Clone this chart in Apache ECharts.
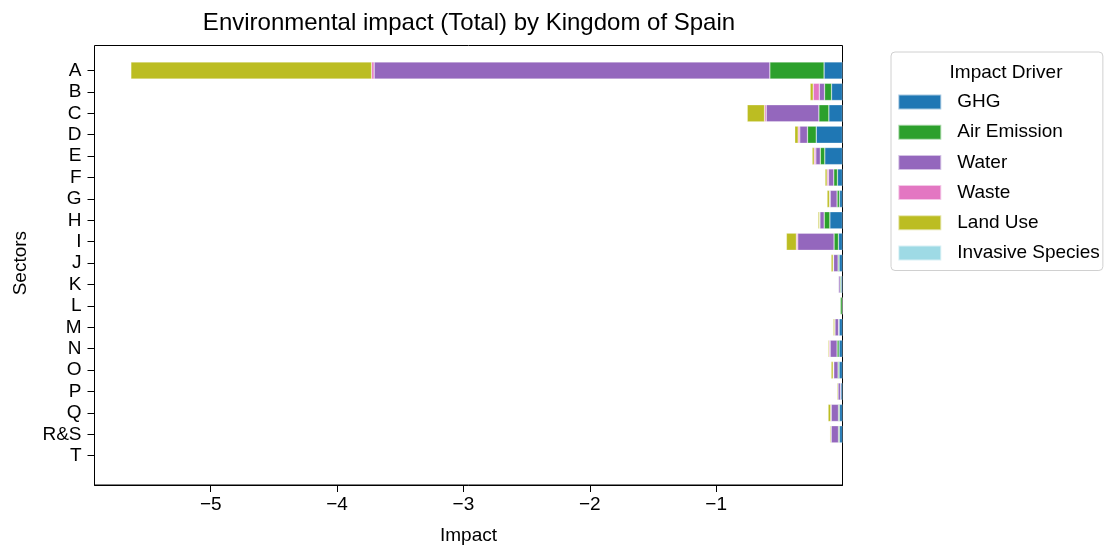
<!DOCTYPE html>
<html>
<head>
<meta charset="utf-8">
<script src="https://cdn.jsdelivr.net/npm/echarts@6/dist/echarts.min.js"></script>
<style>
html,body{margin:0;padding:0;background:#fff;}
#chart{width:1107px;height:546px;}
</style>
</head>
<body>
<div id="chart"></div>
<script>
const sectors = ['A','B','C','D','E','F','G','H','I','J','K','L','M','N','O','P','Q','R&S','T'];
const drivers = ['GHG','Air Emission','Water','Waste','Land Use','Invasive Species'];
const colors = ['#1f77b4','#2ca02c','#9467bd','#e377c2','#bcbd22','#9edae5'];
const xTicks = [-5,-4,-3,-2,-1];

const ghg      = [-0.146,-0.087,-0.108,-0.208,-0.140,-0.040,-0.024,-0.100,-0.032,-0.027,-0.011,-0.002,-0.027,-0.027,-0.027,-0.013,-0.024,-0.024,0];
const air      = [-0.429,-0.055,-0.079,-0.069,-0.036,-0.029,-0.019,-0.045,-0.035,-0.008,-0.008,-0.015,-0.004,-0.016,-0.008,-0.002,-0.008,-0.008,0];
const water    = [-3.132,-0.042,-0.417,-0.061,-0.035,-0.042,-0.055,-0.034,-0.287,-0.036,-0.013,0,-0.029,-0.055,-0.034,-0.021,-0.058,-0.058,0];
const waste    = [-0.020,-0.048,-0.013,-0.013,-0.013,-0.011,-0.005,-0.003,-0.011,-0.003,0,0,-0.002,-0.008,-0.005,-0.001,-0.003,-0.003,0];
const landUse  = [-1.905,-0.024,-0.137,-0.027,-0.016,-0.016,-0.019,-0.011,-0.079,-0.016,-0.003,0,-0.011,-0.008,-0.016,-0.008,-0.021,-0.008,0];
const invasive = [0,0,0,0,0,0,0,0,0,0,0,0,0,0,0,0,0,0,0];
const seriesValues = [ghg, air, water, waste, landUse, invasive];

const X_MIN = -5.92, X_MAX = 0;
const FONT = 'Liberation Sans, Arial, sans-serif';
const fmt = v => String(v).replace('-', '\u2212');

const chart = echarts.init(document.getElementById('chart'), null, {renderer:'canvas'});
chart.setOption({
  animation: false,
  backgroundColor: '#fff',
  textStyle: {fontFamily: FONT},
  title: [
    {text: 'Environmental impact (Total) by Kingdom of Spain', left: 464, top: 6, textAlign: 'center',
     textStyle: {fontFamily: FONT, fontSize: 24, fontWeight: 'normal', color: '#000'}},
    {text: 'Impact Driver', left: 1001, top: 58, textAlign: 'center',
     textStyle: {fontFamily: FONT, fontSize: 19, fontWeight: 'normal', color: '#000'}}
  ],
  legend: {
    orient: 'vertical', left: 891, top: 52,
    data: drivers,
    itemWidth: 43, itemHeight: 15, itemGap: 11.2,
    padding: [40.5, 3, 8, 6.3],
    borderColor: '#d0d0d0', borderWidth: 1, borderRadius: 4,
    icon: 'rect',
    textStyle: {fontFamily: FONT, fontSize: 19, color: '#000', padding: [0,0,0,11]},
    selectedMode: false
  },
  grid: [
    {left: 94.5, right: 264.5, top: 45.5, bottom: 61, show: true, borderColor: '#000', borderWidth: 1,
     backgroundColor: 'transparent', containLabel: false, outerBoundsMode: 'none'},
    {left: 94.5, right: 264.5, top: 59.8, height: 406.6, containLabel: false, outerBoundsMode: 'none'}
  ],
  xAxis: [
    {gridIndex: 0, type: 'value', min: X_MIN, max: X_MAX,
     axisLine: {show: true, onZero: false, lineStyle: {color: '#000'}},
     axisTick: {show: true, length: 7, lineStyle: {color: '#000'}, customValues: xTicks},
     axisLabel: {show: true, color: '#000', fontSize: 19, fontFamily: FONT, margin: 10, customValues: xTicks, formatter: fmt},
     splitLine: {show: false},
     name: 'Impact', nameLocation: 'middle', nameGap: 41,
     nameTextStyle: {color: '#000', fontSize: 19, fontFamily: FONT}},
    {gridIndex: 1, type: 'value', min: X_MIN, max: X_MAX, show: false, splitLine: {show: false}}
  ],
  yAxis: [
    {gridIndex: 0, type: 'value', show: false, splitLine: {show: false}},
    {gridIndex: 1, type: 'category', data: sectors, inverse: true, position: 'left',
     axisLine: {show: false, onZero: false},
     axisTick: {show: true, alignWithLabel: true, interval: 0, length: 7, lineStyle: {color: '#000'}},
     axisLabel: {color: '#000', fontSize: 19, fontFamily: FONT, margin: 13, interval: 0},
     name: 'Sectors', nameLocation: 'middle', nameGap: 64, nameRotate: 90,
     nameTextStyle: {color: '#000', fontSize: 19, fontFamily: FONT}}
  ],
  series: drivers.map((d, i) => ({
    name: d, type: 'bar', stack: 'total',
    xAxisIndex: 1, yAxisIndex: 1,
    barWidth: '80%',
    itemStyle: {color: colors[i], borderColor: 'rgba(255,255,255,0.6)', borderWidth: 0.5},
    data: seriesValues[i].map(v => (v === 0 ? null : v))
  }))
});
</script>
</body>
</html>
